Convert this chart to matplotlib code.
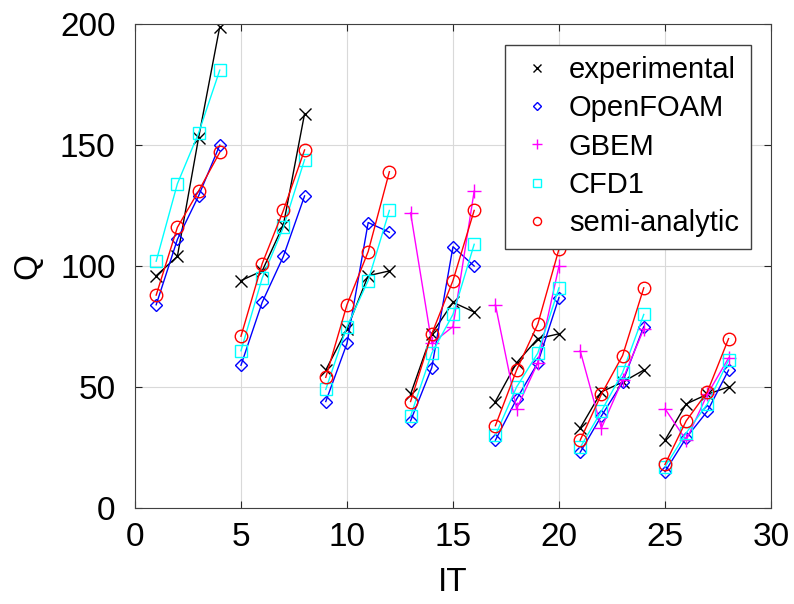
import numpy as np
import matplotlib
matplotlib.use('Agg')
import matplotlib.pyplot as plt

plt.rcParams['font.family'] = ['Liberation Sans', 'DejaVu Sans']

it = np.arange(1, 29)
nan = np.nan

experimental = [96, 104, 153, 199, 94, 98, 117, 163, 57, 74, 96, 98,
                47, 72, 85, 81, 44, 60, 70, 72, 33, 48, 52, 57, 28, 43, 47, 50]
openfoam = [84, 111, 129, 150, 59, 85, 104, 129, 44, 68, 118, 114,
            36, 58, 108, 100, 28, 45, 60, 87, 23, 38, 52, 75, 15, 29, 40, 57]
gbem = [nan] * 12 + [122, 68, 75, 131, 84, 41, 60, 100, 65, 33, 53, 74, 41, 28, 47, 62]
cfd1 = [102, 134, 155, 181, 65, 95, 116, 144, 49, 75, 94, 123,
        38, 64, 80, 109, 30, 50, 64, 91, 25, 40, 56, 80, 17, 31, 43, 61]
semi = [88, 116, 131, 147, 71, 101, 123, 148, 54, 84, 106, 139,
        44, 72, 94, 123, 34, 57, 76, 107, 28, 47, 63, 91, 18, 36, 48, 70]

series = [
    ('experimental', experimental, 'x', 'black', 9),
    ('OpenFOAM', openfoam, 'D', '#0000ff', 6.5),
    ('GBEM', gbem, '+', '#ff00ff', 10),
    ('CFD1', cfd1, 's', '#00ffff', 8),
    ('semi-analytic', semi, 'o', '#ff0000', 9),
]

fig = plt.figure(figsize=(7.94, 6.04), dpi=100)
ax = fig.add_axes([0.170, 0.159, 0.801, 0.801])

for name, vals, mk, col, ms in series:
    vals = np.array(vals, dtype=float)
    # lines only inside each group of 4 runs
    for g in range(0, 28, 4):
        ax.plot(it[g:g + 4], vals[g:g + 4], '-', color=col, lw=1)
    ax.plot(it, vals, linestyle='none', marker=mk, color=col, ms=ms,
            mfc='none', mew=1, label=name)

ax.set_xlim(0, 30)
ax.set_ylim(0, 200)
ax.set_xticks(range(0, 31, 5))
ax.set_yticks(range(0, 201, 50))
ax.grid(True, color='#d9d9d9', lw=0.8)
ax.set_axisbelow(True)
ax.tick_params(direction='in', top=True, right=True, labelsize=24, length=5,
               color='#262626')
ax.tick_params(axis='x', pad=10)
ax.tick_params(axis='y', pad=14)
for s in ax.spines.values():
    s.set_color('#404040')
ax.set_xlabel('IT', fontsize=24, labelpad=10)
ax.set_ylabel('Q', fontsize=24, labelpad=12)

leg = ax.legend(loc='upper right', fontsize=21, markerscale=0.65, handletextpad=0.4,
                fancybox=False, framealpha=1, edgecolor='#404040',
                borderaxespad=0.7, labelspacing=0.35, handlelength=1.4,
                borderpad=0.4)
leg.get_frame().set_linewidth(1)

fig.savefig('out.png', dpi=100)
